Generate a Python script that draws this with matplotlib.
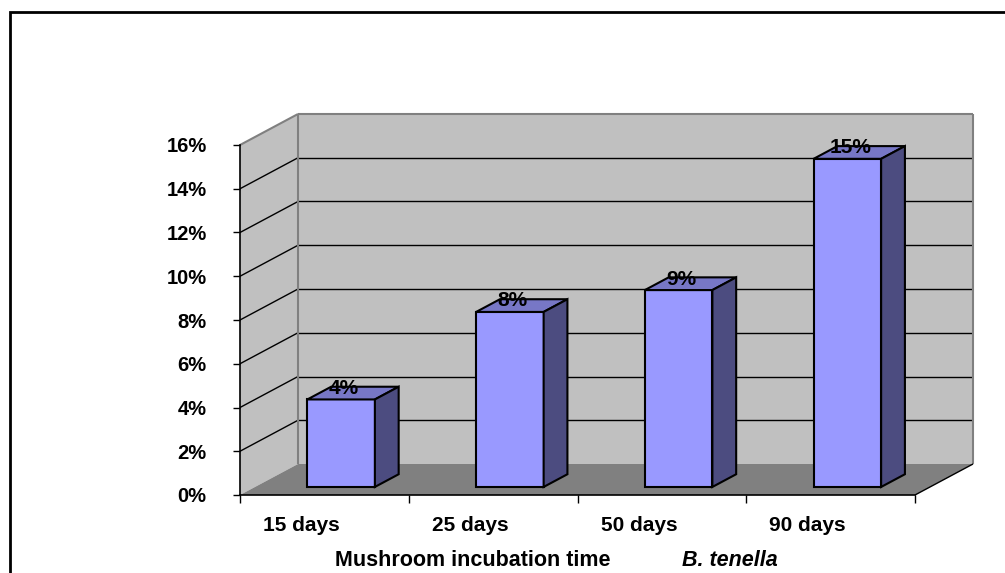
import matplotlib
matplotlib.use("Agg")
import matplotlib.pyplot as plt
from matplotlib.patches import Polygon, Rectangle
from matplotlib.ticker import FixedLocator, FuncFormatter
from matplotlib.transforms import ScaledTranslation

plt.rcParams['font.family'] = ['Liberation Sans', 'DejaVu Sans']
plt.rcParams['font.weight'] = 'bold'

# incubation time vs. percentage (B. tenella)
categories = ['15 days', '25 days', '50 days', '90 days']
values = [4, 8, 9, 15]
y_ticks = [0, 2, 4, 6, 8, 10, 12, 14, 16]

W, H, DPI = 1005, 573, 100
fig = plt.figure(figsize=(W / DPI, H / DPI), dpi=DPI)
ax = fig.add_axes([240 / W, (H - 495) / H, 675 / W, 350 / H])
ax.set_xlim(0, len(categories))
ax.set_ylim(0, 16)
ax.patch.set_visible(False)

# depth direction of the 3d box, in data units of the front plane
px_x = 675 / len(categories)
px_y = 350 / 16
DX = 58 / px_x
DY = 31 / px_y


def pt(x, y, d):
    return (x + d * DX, y + d * DY)


def face(pts, fc, ec='none', lw=0, z=1):
    ax.add_patch(Polygon([pt(*p) for p in pts], closed=True, facecolor=fc,
                         edgecolor=ec, linewidth=lw, zorder=z, clip_on=False,
                         joinstyle='miter'))


def line(p0, p1, color, lw=1, z=1.5):
    a, b = pt(*p0), pt(*p1)
    ax.plot([a[0], b[0]], [a[1], b[1]], color=color, lw=lw, zorder=z,
            clip_on=False, solid_capstyle='butt')


n = len(categories)
top = y_ticks[-1]
wall = '#c0c0c0'
edge = '#808080'

# walls and floor
face([(0, 0, 1), (n, 0, 1), (n, top, 1), (0, top, 1)], wall, z=0.5)
face([(0, 0, 0), (0, 0, 1), (0, top, 1), (0, top, 0)], wall, z=0.5)
face([(0, 0, 0), (n, 0, 0), (n, 0, 1), (0, 0, 1)], '#808080', z=0.6)

for v in y_ticks[1:-1]:
    line((0, v, 1), (n, v, 1), 'black', lw=1, z=0.7)
    line((0, v, 0), (0, v, 1), 'black', lw=1, z=0.7)

line((0, 0, 1), (0, top, 1), edge, lw=1.5, z=0.8)
line((0, top, 1), (n, top, 1), edge, lw=1.5, z=0.8)
line((n, top, 1), (n, 0, 1), edge, lw=1.5, z=0.8)
line((0, top, 0), (0, top, 1), edge, lw=1.5, z=0.8)
line((n, 0, 0), (n, 0, 1), 'black', lw=1, z=0.8)

# 3d columns
d0, d1 = 0.26, 0.67
bw = 0.40
for i, v in enumerate(values):
    x0 = i + 0.31
    x1 = x0 + bw
    face([(x0, 0, d0), (x1, 0, d0), (x1, v, d0), (x0, v, d0)],
         '#9999ff', 'black', 1.5, z=3)
    face([(x0, v, d0), (x1, v, d0), (x1, v, d1), (x0, v, d1)],
         '#7777c6', 'black', 1.5, z=3)
    face([(x1, 0, d0), (x1, 0, d1), (x1, v, d1), (x1, v, d0)],
         '#4c4c80', 'black', 1.5, z=3)
    ax.annotate(f'{v}%', xy=pt(x0 + bw / 2, v, d0), xytext=(3, 11),
                textcoords='offset pixels', ha='center', va='center',
                fontsize=15, fontweight='bold', zorder=4)

# axes, ticks and labels
for s in ['top', 'right']:
    ax.spines[s].set_visible(False)
ax.spines['left'].set_linewidth(1.2)
ax.spines['bottom'].set_linewidth(1.2)
ax.spines['left'].set_zorder(2)
ax.spines['bottom'].set_zorder(2)

ax.set_yticks(y_ticks)
ax.yaxis.set_major_formatter(FuncFormatter(lambda v, p: f'{int(v)}%'))
ax.tick_params(axis='y', length=5, width=1, pad=19, labelsize=14.5)

ax.xaxis.set_major_locator(FixedLocator(range(n + 1)))
ax.xaxis.set_minor_locator(FixedLocator([i + 0.5 for i in range(n)]))
ax.set_xticklabels([], minor=False)
ax.set_xticklabels(categories, minor=True)
ax.tick_params(axis='x', which='major', length=6, width=1)
ax.tick_params(axis='x', which='minor', length=0, pad=15, labelsize=15)
shift = ScaledTranslation(-23 / DPI, 0, fig.dpi_scale_trans)
for lab in ax.get_xticklabels(minor=True):
    lab.set_transform(lab.get_transform() + shift)
    lab.set_fontweight('bold')
for lab in ax.get_yticklabels():
    lab.set_fontweight('bold')

fig.text(473 / W, 1 - 560 / H, 'Mushroom incubation time', ha='center',
         va='center', fontsize=15.5, fontweight='bold')
fig.text(730 / W, 1 - 560 / H, 'B. tenella', ha='center', va='center',
         fontsize=15.5, fontweight='bold', style='italic')

# chart frame
fig.patches.append(Rectangle((10 / W, -0.05), 1.1, 1 - 12 / H + 0.05,
                             transform=fig.transFigure, fill=False,
                             edgecolor='black', linewidth=2))

fig.savefig('out.png', dpi=DPI)
